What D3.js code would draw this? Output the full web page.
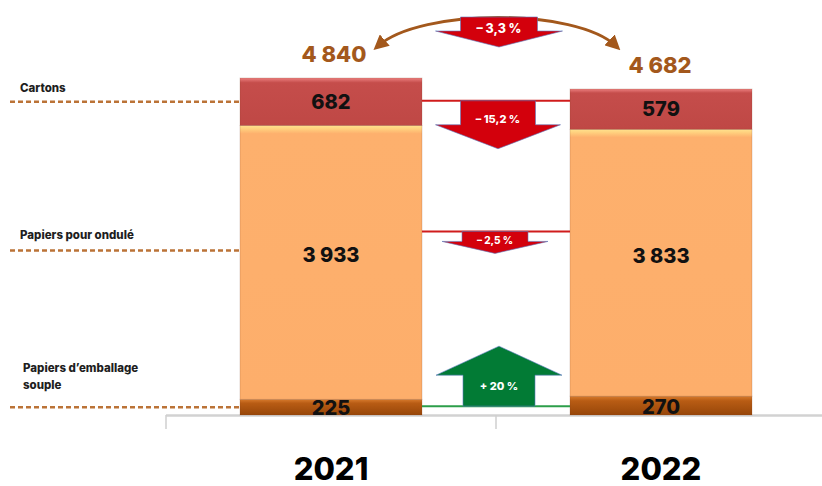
<!DOCTYPE html>
<html>
<head>
<meta charset="utf-8">
<script src="https://cdn.jsdelivr.net/npm/d3@7"></script>
<style>
  body { margin: 0; background: #fff; }
  svg { display: block; font-family: Inter, "DejaVu Sans", sans-serif; }
</style>
</head>
<body>
<svg id="chart" width="822" height="486"></svg>
<script>
'use strict';

// data (thousand tonnes)
const years = ['2021', '2022'];
const cartons = [682, 579];
const ondule = [3933, 3833];
const souple = [225, 270];
const totals = [4840, 4682];
const seriesNames = ['Cartons', 'Papiers pour ondulé', "Papiers d’emballage souple"];
const changes = ['– 3,3 %', '– 15,2 %', '– 2,5 %', '+ 20 %'];

const rows = years.map((yr, i) => ({ year: yr, souple: souple[i], ondule: ondule[i], cartons: cartons[i] }));
const keys = ['souple', 'ondule', 'cartons'];

const svg = d3.select('#chart');
const defs = svg.append('defs');

const x = d3.scaleBand().domain(years).range([166, 826]).paddingInner(0).paddingOuter(0);
const y = d3.scaleLinear().domain([0, d3.max(totals)]).range([415, 78]);
const barW = 182;
const cx = d => x(d) + x.bandwidth() / 2;

// gradients for the bevel look
function grad(id, stops) {
  const g = defs.append('linearGradient').attr('id', id).attr('x1', 0).attr('y1', 0).attr('x2', 0).attr('y2', 1);
  stops.forEach(s => g.append('stop').attr('offset', s[0]).attr('stop-color', s[1]));
}
grad('gSouple', [[0, '#d77a2c'], [0.25, '#b85c14'], [1, '#974609']]);
grad('gCartons', [[0, '#ec7f7f'], [0.1, '#c54d4b'], [1, '#bf4845']]);
grad('gOndule', [[0, '#ffe28e'], [0.012, '#ffd07e'], [0.03, '#fdb06d'], [1, '#fdae6b']]);
const fills = { souple: 'url(#gSouple)', ondule: 'url(#gOndule)', cartons: 'url(#gCartons)' };

const stacked = d3.stack().keys(keys)(rows);

// axis
svg.append('line')
  .attr('x1', 166).attr('x2', 822).attr('y1', 415.5).attr('y2', 415.5)
  .attr('stroke', '#d2d2d2').attr('stroke-width', 2.5);
[166, 496].forEach(t => {
  svg.append('line').attr('x1', t).attr('x2', t).attr('y1', 415).attr('y2', 429)
    .attr('stroke', '#cfcfcf').attr('stroke-width', 1.5);
});

// bars
const layer = svg.append('g').selectAll('g').data(stacked).join('g')
  .attr('fill', d => fills[d.key]);
layer.selectAll('rect').data(d => d).join('rect')
  .attr('x', d => cx(d.data.year) - barW / 2)
  .attr('width', barW)
  .attr('y', d => y(d[1]))
  .attr('height', d => y(d[0]) - y(d[1]))
  .attr('stroke', 'rgba(120,60,30,0.25)')
  .attr('stroke-width', 0.8);

// values inside the segments
const valOffset = { souple: 1, ondule: -7, cartons: 0 };
stacked.forEach(s => {
  s.forEach(d => {
    const v = d.data[s.key];
    svg.append('text')
      .attr('x', cx(d.data.year))
      .attr('y', (y(d[0]) + y(d[1])) / 2 + valOffset[s.key])
      .attr('text-anchor', 'middle')
      .attr('dominant-baseline', 'central')
      .attr('font-size', 20).attr('font-weight', 800)
      .attr('fill', '#111')
      .text(d3.format(',')(v).replace(',', ' '));
  });
});

// totals on top
totals.forEach((t, i) => {
  svg.append('text')
    .attr('x', cx(years[i]) + (i === 0 ? 3 : -1))
    .attr('y', y(t) - 24)
    .attr('text-anchor', 'middle')
    .attr('dominant-baseline', 'central')
    .attr('font-size', 22).attr('font-weight', 800)
    .attr('fill', '#a3581c')
    .text(d3.format(',')(t).replace(',', ' '));
});

// year labels
years.forEach(yr => {
  svg.append('text')
    .attr('x', cx(yr)).attr('y', 468)
    .attr('text-anchor', 'middle').attr('dominant-baseline', 'central')
    .attr('font-size', 31).attr('font-weight', 800).attr('fill', '#000')
    .text(yr);
});

// left series labels with dashed leaders
const s0 = stacked[0][0], s1 = stacked[1][0], s2 = stacked[2][0];
const leaderY = [
  (y(s2[0]) + y(s2[1])) / 2,
  (y(s1[0]) + y(s1[1])) / 2 - 12,
  (y(s0[0]) + y(s0[1])) / 2
];
const barLeft = cx(years[0]) - barW / 2;
leaderY.forEach(ly => {
  svg.append('line')
    .attr('x1', 10).attr('x2', barLeft).attr('y1', ly).attr('y2', ly)
    .attr('stroke', '#bb7337').attr('stroke-width', 2.5).attr('stroke-dasharray', '5,3');
});
const lbl = svg.append('g').attr('font-size', 11.5).attr('font-weight', 800).attr('fill', '#1e1e1e');
lbl.append('text').attr('x', 20).attr('y', leaderY[0] - 10).text(seriesNames[0]);
lbl.append('text').attr('x', 20).attr('y', leaderY[1] - 11).text(seriesNames[1]);
lbl.append('text').attr('x', 23).attr('y', leaderY[2] - 35).text('Papiers d’emballage');
lbl.append('text').attr('x', 23).attr('y', leaderY[2] - 18).text('souple');

// arrows between the bars
const mid = (cx(years[0]) + cx(years[1])) / 2;
const barRight = cx(years[0]) + barW / 2;
const barLeft2 = cx(years[1]) - barW / 2;

function blockArrow(c, yBase, bw, bh, ww, hh, dir) {
  // dir 1 = down (yBase is the top), -1 = up (yBase is the bottom)
  const yw = yBase + dir * bh;
  const yt = yw + dir * hh;
  return d3.line()([
    [c - bw / 2, yBase], [c + bw / 2, yBase], [c + bw / 2, yw], [c + ww / 2, yw],
    [c, yt], [c - ww / 2, yw], [c - bw / 2, yw]
  ]) + 'Z';
}

// top curved arrow between totals
defs.append('marker').attr('id', 'head').attr('viewBox', '0 0 10 10')
  .attr('refX', 6).attr('refY', 5).attr('markerWidth', 5).attr('markerHeight', 5)
  .attr('orient', 'auto-start-reverse')
  .append('path').attr('d', 'M0,0 L10,5 L0,10 Z').attr('fill', '#a3581c');
const ay = y(totals[0]) - 32;
svg.append('path')
  .attr('d', `M${mid - 118},${ay} C${mid - 75},${ay - 38} ${mid + 80},${ay - 38} ${mid + 120},${ay}`)
  .attr('fill', 'none').attr('stroke', '#a3581c').attr('stroke-width', 3)
  .attr('marker-start', 'url(#head)').attr('marker-end', 'url(#head)');

const red = '#d3000c', green = '#027b35';
const lines = [
  { y: leaderY[0] - 1, color: '#d01c1c' },
  { y: leaderY[1] - 19, color: '#d01c1c' },
  { y: leaderY[2] - 1, color: '#2c9e4a' }
];
lines.forEach(l => {
  svg.append('line').attr('x1', barRight).attr('x2', barLeft2).attr('y1', l.y).attr('y2', l.y)
    .attr('stroke', l.color).attr('stroke-width', 2);
});

const arrows = [
  { c: mid + 3, base: y(totals[0]) - 61, bw: 77, bh: 14, ww: 127, hh: 16, dir: 1, color: red, fs: 12.5, ty: 11 },
  { c: mid + 2, base: lines[0].y, bw: 75, bh: 24, ww: 125, hh: 24, dir: 1, color: red, fs: 11, ty: 18 },
  { c: mid - 1, base: lines[1].y, bw: 66, bh: 10, ww: 106, hh: 12, dir: 1, color: red, fs: 10, ty: 9 },
  { c: mid + 3, base: lines[2].y, bw: 72, bh: 31, ww: 126, hh: 29, dir: -1, color: green, fs: 11, ty: -20 }
];
arrows.forEach((a, i) => {
  svg.append('path')
    .attr('d', blockArrow(a.c, a.base, a.bw, a.bh, a.ww, a.hh, a.dir))
    .attr('fill', a.color).attr('stroke', '#5b7bc0').attr('stroke-width', 0.6);
  svg.append('text')
    .attr('x', a.c).attr('y', a.base + a.ty)
    .attr('text-anchor', 'middle').attr('dominant-baseline', 'central')
    .attr('font-size', a.fs).attr('font-weight', 800).attr('fill', '#fff')
    .text(changes[i]);
});
</script>
</body>
</html>
